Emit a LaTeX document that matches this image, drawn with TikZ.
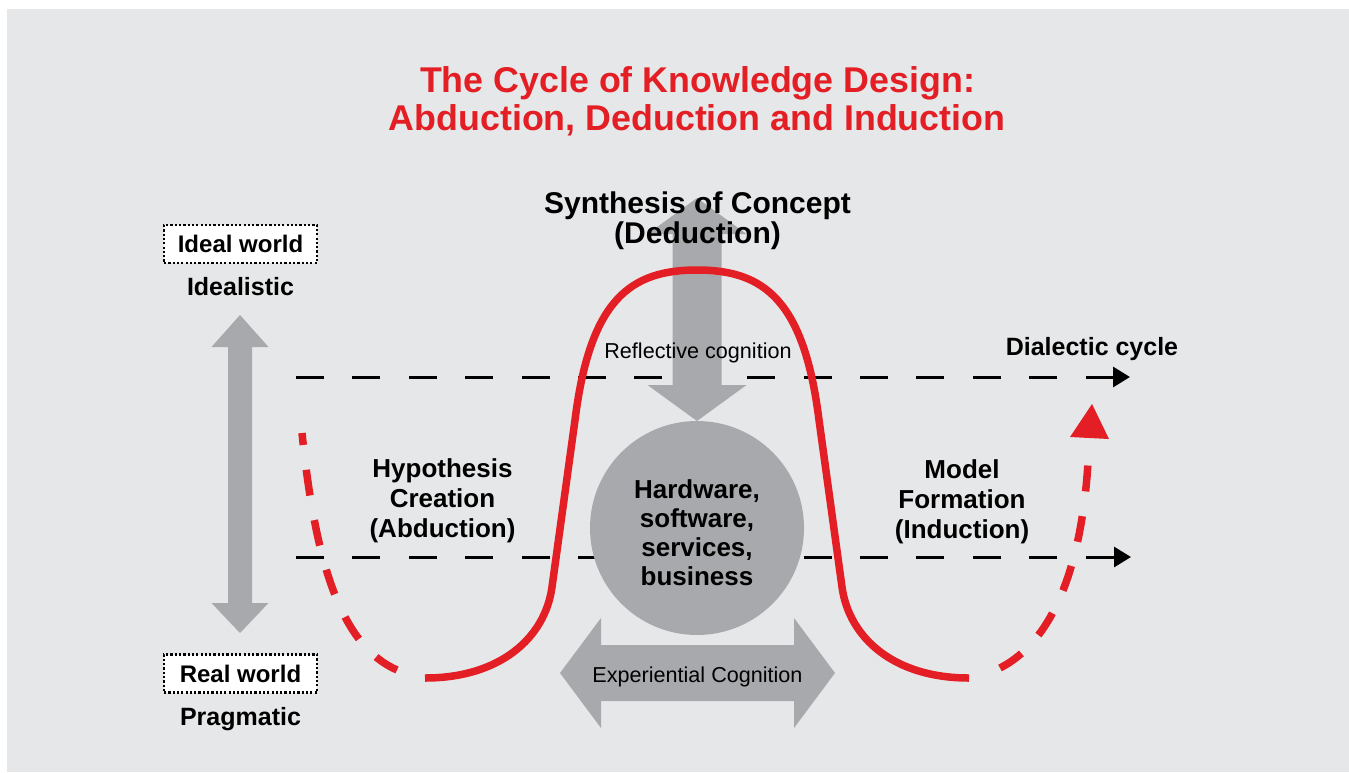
\documentclass[tikz,border=0pt]{standalone}
\usepackage{fontspec}
\setmainfont{Liberation Sans}
\usetikzlibrary{arrows.meta}
\definecolor{panelgrey}{HTML}{E6E7E8}
\definecolor{shapegrey}{HTML}{A7A9AC}
\definecolor{cyclered}{HTML}{E31E24}
\begin{document}
\begin{tikzpicture}[x=1pt,y=-1pt,
  titletext/.style={font=\bfseries\fontsize{35.8}{38}\selectfont, text=cyclered, inner sep=0pt},
  headlabel/.style={font=\bfseries\fontsize{30}{30}\selectfont, inner sep=0pt},
  phaselabel/.style={font=\bfseries\fontsize{26}{30}\selectfont, align=center, inner sep=0pt},
  corelabel/.style={font=\bfseries\fontsize{26}{29}\selectfont, align=center, inner sep=0pt},
  sidelabel/.style={font=\bfseries\fontsize{25}{30}\selectfont, inner sep=0pt},
  cognition/.style={font=\fontsize{21.6}{24}\selectfont, inner sep=0pt},
  worldbox/.style={draw=black, fill=white, line width=2.2pt, dash pattern=on 2.2pt off 2.1pt,
    minimum width=153pt, minimum height=38pt, inner sep=0pt,
    font=\bfseries\fontsize{24}{26}\selectfont},
  dialectic/.style={line width=3pt, dash pattern=on 28pt off 28.4pt,
    -{Triangle[length=17pt,width=20pt]}},
  cycleline/.style={draw=cyclered, line width=7.5pt},
  cycledash/.style={draw=cyclered, line width=7.5pt, dash pattern=on 26pt off 25pt},
  greyshape/.style={fill=shapegrey}]

\useasboundingbox (0,0) rectangle (1349,772);
\fill[white] (0,0) rectangle (1349,772);
\fill[panelgrey] (7,9) rectangle (1349,772);

% dialectic cycle levels
\coordinate (upper-start) at (296,377);
\coordinate (upper-end)   at (1130,377);
\coordinate (lower-start) at (296,557);
\coordinate (lower-end)   at (1131,557);
\draw[dialectic] (upper-start) -- (upper-end);
\draw[dialectic] (lower-start) -- (lower-end);

% ideal / real double arrow
\fill[greyshape] (240,315) -- (268.5,347) -- (252,347) -- (252,603) -- (268.5,603) -- (240,633)
  -- (211.5,603) -- (228,603) -- (228,347) -- (211.5,347) -- cycle;

% reflective cognition arrow
\fill[greyshape] (697,198) -- (746.5,234) -- (721.5,234) -- (721.5,385) -- (746.5,385) -- (697,421)
  -- (647.5,385) -- (672.5,385) -- (672.5,234) -- (647.5,234) -- cycle;

% experiential cognition arrow
\fill[greyshape] (560,673) -- (601,618) -- (601,645) -- (794,645) -- (794,618) -- (835,673)
  -- (794,728) -- (794,701) -- (601,701) -- (601,728) -- cycle;

% core circle
\node[circle, fill=shapegrey, minimum size=214pt, inner sep=0pt] (core) at (697,528) {};

% knowledge design cycle
\draw[cycleline] (425,678) .. controls (500,678) and (545,638) .. (552,587)
  -- (575,420) .. controls (590,300) and (630,270) .. (697,270)
  .. controls (764,270) and (804,300) .. (819,420)
  -- (842,587) .. controls (849,638) and (894,678) .. (969,678);
\draw[cycledash, dash phase=14pt] (302,433) .. controls (315,560) and (340,645) .. (397,670);
\draw[cycledash] (1000,668) .. controls (1055,640) and (1085,560) .. (1089,442);
\fill[cyclered] (1070,437) -- (1092,404) -- (1109,439) -- cycle;

% titles and labels
\node[titletext, anchor=base] (title1) at (697.5,92) {The Cycle of Knowledge Design:};
\node[titletext, anchor=base] (title2) at (697,130) {Abduction, Deduction and Induction};

\node[headlabel, anchor=base] (synth1) at (697.5,213) {Synthesis of Concept};
\node[headlabel, anchor=base] (synth2) at (697.5,243) {(Deduction)};

\node[cognition, anchor=base] (reflect) at (698,358) {Reflective cognition};
\node[cognition, anchor=base] (experience) at (697.5,682) {Experiential Cognition};

\node[sidelabel, anchor=base] (dialectic) at (1092,355) {Dialectic cycle};

% multi-line labels: the base anchor sits on the last line
\node[phaselabel, anchor=base] (abduction) at (442.5,537) {Hypothesis\\Creation\\(Abduction)};
\node[phaselabel, anchor=base] (induction) at (962,538) {Model\\Formation\\(Induction)};
\node[corelabel, anchor=base] (coretext) at (697,585) {Hardware,\\software,\\services,\\business};

\node[worldbox] (ideal) at (240.5,244) {Ideal world};
\node[sidelabel, anchor=base] (idealistic) at (240.5,295) {Idealistic};
\node[worldbox] (real) at (240.5,673.5) {Real world};
\node[sidelabel, anchor=base] (pragmatic) at (240.5,725) {Pragmatic};
\end{tikzpicture}
\end{document}
